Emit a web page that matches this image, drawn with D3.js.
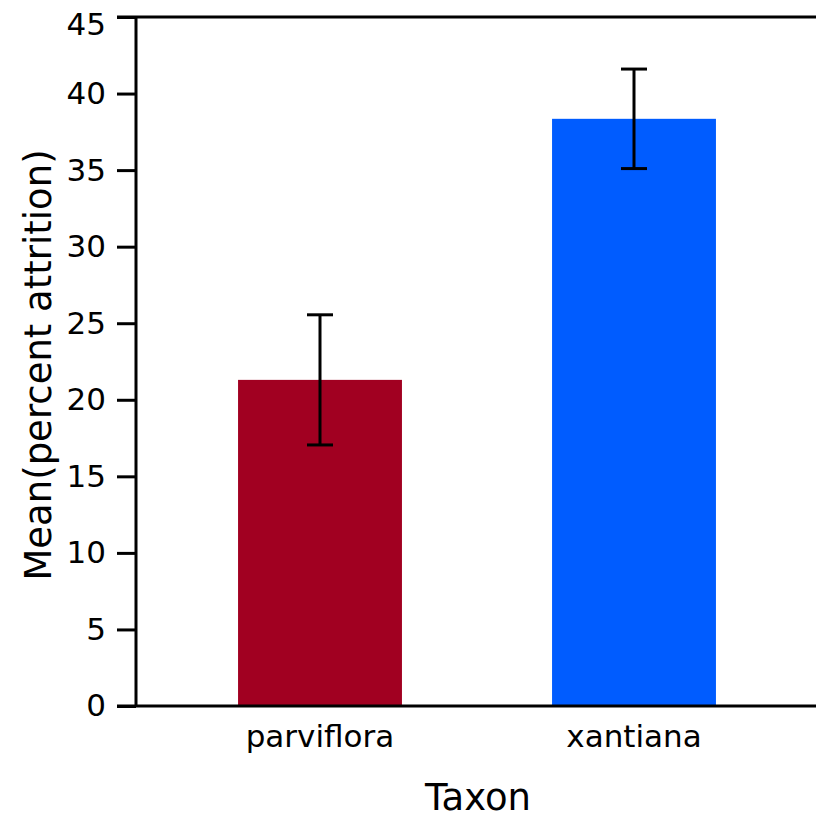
<!DOCTYPE html>
<html>
<head>
<meta charset="utf-8">
<script src="https://cdn.jsdelivr.net/npm/d3@7"></script>
<style>
  body { margin: 0; background: #fff; }
  text { font-family: "DejaVu Sans", sans-serif; fill: #000; }
</style>
</head>
<body>
<div id="chart"></div>
<script>
var categories = ["parviflora", "xantiana"]
var means = [21.3, 38.35]
var errLow = [17.05, 35.1]
var errHigh = [25.55, 41.6]
var yTicks = [0, 5, 10, 15, 20, 25, 30, 35, 40, 45]
var colors = ["#a10021", "#005cff"]

var width = 816, height = 820

var svg = d3.select("#chart")
  .append("svg")
  .attr("width", width)
  .attr("height", height)

// scales
var x = d3.scaleBand()
  .domain(categories)
  .range([163, 791])
  .paddingInner(0.478)
  .paddingOuter(0.239)

var y = d3.scaleLinear()
  .domain([0, 45])
  .range([706, 17])

// bars
svg.selectAll("rect.bar")
  .data(categories)
  .enter()
  .append("rect")
  .attr("class", "bar")
  .attr("x", d => x(d))
  .attr("width", x.bandwidth())
  .attr("y", (d, i) => y(means[i]))
  .attr("height", (d, i) => y(0) - y(means[i]))
  .style("fill", (d, i) => colors[i])

// error bars
var eb = svg.selectAll("g.err")
  .data(categories)
  .enter()
  .append("g")
  .attr("class", "err")
  .attr("stroke", "#000")
  .attr("stroke-width", 3)

eb.append("line")
  .attr("x1", d => x(d) + x.bandwidth() / 2)
  .attr("x2", d => x(d) + x.bandwidth() / 2)
  .attr("y1", (d, i) => y(errLow[i]))
  .attr("y2", (d, i) => y(errHigh[i]))
eb.append("line")
  .attr("x1", d => x(d) + x.bandwidth() / 2 - 13)
  .attr("x2", d => x(d) + x.bandwidth() / 2 + 13)
  .attr("y1", (d, i) => y(errLow[i]))
  .attr("y2", (d, i) => y(errLow[i]))
eb.append("line")
  .attr("x1", d => x(d) + x.bandwidth() / 2 - 13)
  .attr("x2", d => x(d) + x.bandwidth() / 2 + 13)
  .attr("y1", (d, i) => y(errHigh[i]))
  .attr("y2", (d, i) => y(errHigh[i]))

// y axis
var yAxis = svg.append("g")
  .attr("transform", "translate(136,0)")
  .call(d3.axisLeft(y).tickValues(yTicks).tickSize(19).tickPadding(11))
yAxis.select(".domain").remove()
yAxis.selectAll(".tick line").attr("stroke", "#000").attr("stroke-width", 3)
yAxis.selectAll(".tick text").style("font-size", "31px").attr("fill", "#000")
// top label sits a little lower so it stays inside the picture
yAxis.selectAll(".tick text").filter(d => d === 45).attr("dy", "0.57em")

svg.append("line")
  .attr("x1", 136).attr("x2", 136)
  .attr("y1", y(45)).attr("y2", y(0))
  .attr("stroke", "#000").attr("stroke-width", 3)

// top and bottom frame lines
svg.append("line")
  .attr("x1", 117).attr("x2", width)
  .attr("y1", y(45)).attr("y2", y(45))
  .attr("stroke", "#000").attr("stroke-width", 3)

var xAxis = svg.append("g")
  .attr("transform", "translate(0," + y(0) + ")")
  .call(d3.axisBottom(x).tickSize(0).tickPadding(19))
xAxis.select(".domain").remove()
xAxis.selectAll(".tick text").style("font-size", "31px").attr("fill", "#000")

svg.append("line")
  .attr("x1", 117).attr("x2", width)
  .attr("y1", y(0)).attr("y2", y(0))
  .attr("stroke", "#000").attr("stroke-width", 3)

// axis labels
svg.append("text")
  .attr("transform", "translate(51," + 365 + ") rotate(-90)")
  .attr("text-anchor", "middle")
  .style("font-size", "37px")
  .text("Mean(percent attrition)")

svg.append("text")
  .attr("x", 478)
  .attr("y", 810)
  .attr("text-anchor", "middle")
  .style("font-size", "37px")
  .text("Taxon")
</script>
</body>
</html>
